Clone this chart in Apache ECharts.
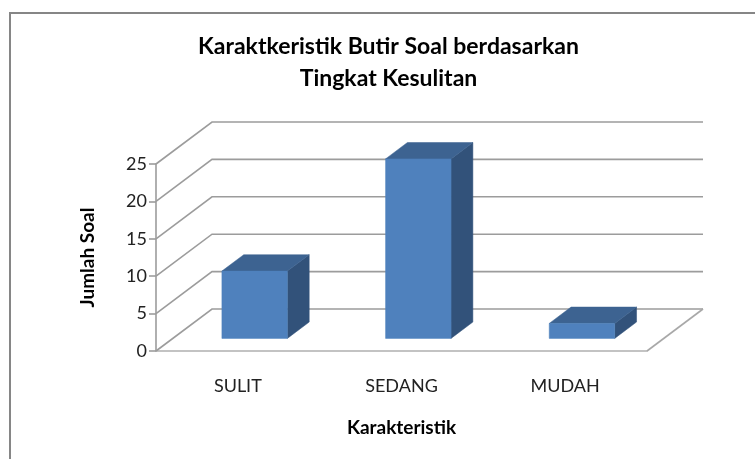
<!DOCTYPE html>
<html><head><meta charset="utf-8">
<style>html,body{margin:0;padding:0;background:#fff}#c{width:755px;height:459px}</style>
<script src="https://cdn.jsdelivr.net/npm/echarts@6/dist/echarts.min.js"></script>
</head><body><div id="c"></div>
<script>
const titleLines = ['Karaktkeristik Butir Soal berdasarkan', 'Tingkat Kesulitan'];
const categories = ['SULIT', 'SEDANG', 'MUDAH'];
const values = [9, 24, 2];
const yTicks = [0, 5, 10, 15, 20, 25];
const xAxisName = 'Karakteristik';
const yAxisName = 'Jumlah Soal';

const FONT = 'Lato, "Noto Sans", sans-serif';
const DX = 56, DY = -42;           // full floor depth in pixels
const BAR_START = 0.3, BAR_DEPTH = 0.39, BAR_WIDTH = 0.4;
const GRID_COLOR = '#9c9c9c';

function gridRender(params, api) {
  const v = api.value(0);
  const cs = params.coordSys;
  const y = api.coord([0, v])[1];
  const x0 = cs.x, x1 = cs.x + cs.width;
  const children = [{
    type: 'polyline',
    shape: { points: [[x0, y], [x0 + DX, y + DY], [x1 + DX, y + DY]] },
    style: { fill: 'none', stroke: GRID_COLOR, lineWidth: 1.6 }
  }];
  if (v === 0) {
    children.push({
      type: 'polyline',
      shape: { points: [[x1 + DX, y + DY], [x1, y]] },
      style: { fill: 'none', stroke: '#a8a8a8', lineWidth: 1.6 }
    });
  }
  return { type: 'group', children };
}

function barRender(params, api) {
  const c = api.coord([api.value(0), api.value(1)]);
  const base = api.coord([api.value(0), 0]);
  const w = api.size([1, 0])[0] * BAR_WIDTH;
  const ox = DX * BAR_START, oy = DY * BAR_START;
  const dx = DX * BAR_DEPTH, dy = DY * BAR_DEPTH;
  const l = c[0] - w / 2 + ox, r = l + w, t = c[1] + oy, b = base[1] + oy;
  const poly = (pts, fill) => ({
    type: 'polygon', shape: { points: pts },
    style: { fill, stroke: fill, lineWidth: 0.5 }
  });
  return { type: 'group', children: [
    poly([[r, t], [r + dx, t + dy], [r + dx, b + dy], [r, b]], '#32527A'),
    poly([[l, t], [l + dx, t + dy], [r + dx, t + dy], [r, t]], '#3D6391'),
    poly([[l, t], [r, t], [r, b], [l, b]], '#4F81BD')
  ]};
}

const chart = echarts.init(document.getElementById('c'), null, { renderer: 'canvas' });
chart.setOption({
  animation: false,
  backgroundColor: '#fff',
  title: {
    text: titleLines.join('\n'), left: 383.5, top: 26, textAlign: 'center',
    textStyle: { fontFamily: FONT, fontWeight: 700, fontSize: 23, lineHeight: 32, color: '#000' }
  },
  graphic: [{
    type: 'rect', shape: { x: 10, y: 13, width: 800, height: 500 },
    style: { fill: 'none', stroke: '#868686', lineWidth: 2 }, silent: true
  }],
  grid: { left: 156, top: 164, width: 491, height: 187 },
  xAxis: {
    type: 'category', data: categories,
    axisLine: { show: true, lineStyle: { color: '#b0b0b0', width: 1.6 } },
    axisTick: { show: false },
    axisLabel: { margin: 26, fontFamily: FONT, fontSize: 18, color: '#222' },
    name: xAxisName, nameLocation: 'middle', nameGap: 67,
    nameTextStyle: { fontFamily: FONT, fontWeight: 700, fontSize: 19, color: '#000' }
  },
  yAxis: {
    type: 'value', min: 0, max: 25, interval: 5,
    axisLine: { show: true, lineStyle: { color: GRID_COLOR, width: 1.6 } },
    axisTick: { show: true, length: 7, lineStyle: { color: GRID_COLOR, width: 1.6 } },
    splitLine: { show: false },
    axisLabel: { margin: 9, fontFamily: FONT, fontSize: 18, color: '#222' },
    name: yAxisName, nameLocation: 'middle', nameGap: 59, nameRotate: 90,
    nameTextStyle: { fontFamily: FONT, fontWeight: 700, fontSize: 19, color: '#000' }
  },
  series: [
    { type: 'custom', renderItem: gridRender, data: yTicks.map(v => [v]), encode: { y: 0 }, z: 1, silent: true },
    { type: 'custom', renderItem: barRender, data: values.map((v, i) => [i, v]), encode: { x: 0, y: 1 }, z: 2 }
  ]
});
</script></body></html>
